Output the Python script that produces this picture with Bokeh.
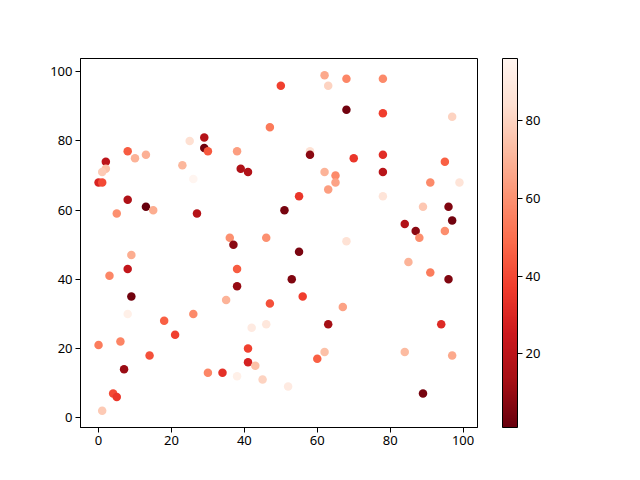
from bokeh.plotting import figure
from bokeh.models import ColumnDataSource, LinearColorMapper, ColorBar, Range1d, FixedTicker
from bokeh.palettes import Reds256
from bokeh.embed import file_html
from bokeh.resources import INLINE

# scatter data
xs = [50, 47, 29, 25, 29, 30, 38, 8, 10, 13, 2, 2, 1, 23, 39, 41, 26, 0, 1, 8,
      13, 15, 5, 27, 36, 37, 46,
      62, 63, 68, 78, 68, 78, 97, 58, 58, 70, 78, 78, 95, 62, 65, 65, 63, 91,
      99, 55, 78, 51, 89, 96, 97, 84, 87, 88, 95, 68,
      9, 8, 3, 38, 38, 9, 35, 47, 8, 26, 18, 42, 46, 21, 0, 6, 14, 41, 41, 43,
      30, 34, 38, 45, 7, 4, 5, 1,
      55, 85, 91, 96, 53, 56, 67, 63, 94, 62, 60, 84, 97, 52, 89]
ys = [96, 84, 81, 80, 78, 77, 77, 77, 75, 76, 74, 72, 71, 73, 72, 71, 69, 68, 68, 63,
      61, 60, 59, 59, 52, 50, 52,
      99, 96, 98, 98, 89, 88, 87, 77, 76, 75, 76, 71, 74, 71, 70, 68, 66, 68,
      68, 64, 64, 60, 61, 61, 57, 56, 54, 52, 54, 51,
      47, 43, 41, 43, 38, 35, 34, 33, 30, 30, 28, 26, 27, 24, 21, 22, 18, 20, 16, 15,
      13, 13, 12, 11, 14, 7, 6, 2,
      48, 45, 42, 40, 40, 35, 32, 27, 27, 19, 17, 19, 18, 9, 7]
cs = [38, 53, 18, 84, 3, 44, 64, 45, 70, 69, 20, 74, 77, 71, 16, 17, 96, 29, 40, 16,
      1, 68, 60, 18, 60, 8, 60,
      67, 80, 57, 58, 3, 37, 80, 85, 8, 35, 32, 19, 46, 70, 58, 65, 64, 58,
      86, 35, 86, 4, 76, 6, 3, 17, 8, 59, 59, 85,
      68, 22, 57, 45, 10, 3, 70, 42, 93, 58, 46, 90, 88, 38, 54, 56, 42, 38, 28, 74,
      57, 33, 93, 80, 11, 40, 35, 77,
      5, 70, 54, 6, 6, 37, 65, 13, 31, 74, 46, 72, 67, 90, 4]

src = ColumnDataSource(data=dict(x=xs, y=ys, c=cs))

# matplotlib-like 5% margins
xpad = (max(xs) - min(xs)) * 0.05
ypad = (max(ys) - min(ys)) * 0.05

p = figure(width=624, height=464, output_backend="svg", toolbar_location=None,
           x_range=Range1d(min(xs) - xpad, max(xs) + xpad),
           y_range=Range1d(min(ys) - ypad, max(ys) + ypad),
           min_border_left=80, min_border_top=58, min_border_bottom=37, min_border_right=100)
p.frame_width = 397
p.frame_height = 369

mapper = LinearColorMapper(palette=Reds256, low=min(cs), high=max(cs))

p.scatter('x', 'y', source=src, size=8.5, line_color=None,
          fill_color={'field': 'c', 'transform': mapper})

p.xgrid.visible = False
p.ygrid.visible = False
p.outline_line_color = "black"
p.outline_line_width = 1

for ax in [p.xaxis[0], p.yaxis[0]]:
    ax.ticker = FixedTicker(ticks=[0, 20, 40, 60, 80, 100])
    ax.major_tick_in = 0
    ax.major_tick_out = 5
    ax.minor_tick_line_color = None
    ax.major_label_text_font = "Noto Sans"
    ax.major_label_text_font_size = "13px"
    ax.major_label_text_color = "black"
    ax.axis_line_color = "black"
    ax.major_tick_line_color = "black"
    ax.major_label_standoff = 3

# colorbar sits to the right of the frame, same height
cb = ColorBar(color_mapper=mapper, width=15, height=369, location=(422, 0),
              ticker=FixedTicker(ticks=[20, 40, 60, 80]),
              major_tick_in=0, major_tick_out=5, major_tick_line_color="black",
              minor_tick_line_color=None,
              bar_line_color="black", bar_line_width=1,
              major_label_text_font="Noto Sans", major_label_text_font_size="13px",
              major_label_text_color="black", label_standoff=3,
              padding=0, margin=0, border_line_color=None, background_fill_color=None)
p.add_layout(cb, "center")

open("out.html", "w").write(file_html(p, INLINE))
